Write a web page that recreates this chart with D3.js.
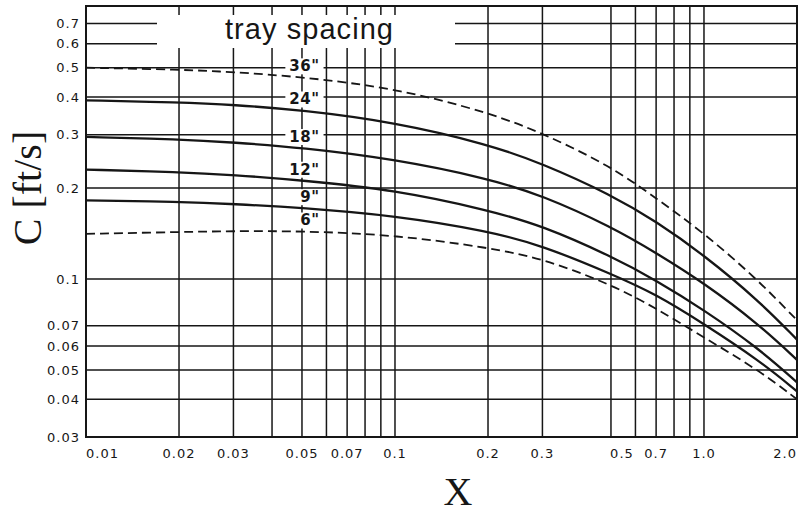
<!DOCTYPE html>
<html>
<head>
<meta charset="utf-8">
<script src="https://cdn.jsdelivr.net/npm/d3@7/dist/d3.min.js"></script>
<style>
  body { margin: 0; background: #fff; }
  svg { display: block; }
</style>
</head>
<body>
<svg id="chart" width="811" height="515"></svg>
<script>
// values (X on the bottom, C in ft/s on the left)
const xValues = [0.01, 0.02, 0.03, 0.05, 0.1, 0.2, 0.3, 0.5, 0.7, 1.0, 1.5, 2.0];
const c36 = [0.500, 0.493, 0.484, 0.466, 0.428, 0.356, 0.304, 0.236, 0.185, 0.142, 0.099, 0.073];
const c24 = [0.390, 0.384, 0.377, 0.362, 0.330, 0.279, 0.241, 0.190, 0.155, 0.120, 0.085, 0.063];
const c18 = [0.295, 0.290, 0.283, 0.272, 0.249, 0.215, 0.189, 0.149, 0.122, 0.097, 0.071, 0.054];
const c12 = [0.230, 0.226, 0.221, 0.212, 0.197, 0.169, 0.150, 0.119, 0.099, 0.079, 0.059, 0.0455];
const c9  = [0.182, 0.180, 0.177, 0.172, 0.162, 0.144, 0.129, 0.104, 0.089, 0.071, 0.054, 0.0425];
const c6  = [0.141, 0.143, 0.144, 0.144, 0.140, 0.127, 0.117, 0.096, 0.080, 0.064, 0.050, 0.040];

const spacingLabels = ['36"', '24"', '18"', '12"', '9"', '6"'];
const spacingSeries = [c36, c24, c18, c12, c9, c6];
const dashedSeries = ['36"', '6"'];

const xGrid = [0.02, 0.03, 0.04, 0.05, 0.06, 0.07, 0.08, 0.09, 0.1, 0.2, 0.3, 0.5, 0.6, 0.7, 0.8, 0.9, 1.0];
const yGrid = [0.04, 0.05, 0.06, 0.07, 0.1, 0.2, 0.3, 0.4, 0.5, 0.6, 0.7];
const xTicks = [0.01, 0.02, 0.03, 0.05, 0.07, 0.1, 0.2, 0.3, 0.5, 0.7, 1.0, 2.0];
const xTickText = ['0.01', '0.02', '0.03', '0.05', '0.07', '0.1', '0.2', '0.3', '0.5', '0.7', '1.0', '2.0'];
const yTicks = [0.03, 0.04, 0.05, 0.06, 0.07, 0.1, 0.2, 0.3, 0.4, 0.5, 0.6, 0.7];

const width = 811, height = 515;
const margin = { top: 6, right: 14, bottom: 78, left: 86 };
const ink = '#161616';

const svg = d3.select('#chart');

const x = d3.scaleLog()
	.domain([0.01, 2.0])
	.range([margin.left, width - margin.right]);

const y = d3.scaleLog()
	.domain([0.03, 0.8])
	.range([height - margin.bottom, margin.top]);

const plot = svg.append('g');

// grid
plot.append('g').selectAll('line')
	.data(xGrid)
	.join('line')
	.attr('x1', d => x(d)).attr('x2', d => x(d))
	.attr('y1', y.range()[0]).attr('y2', y.range()[1])
	.attr('stroke', ink).attr('stroke-width', 1.5);

plot.append('g').selectAll('line')
	.data(yGrid)
	.join('line')
	.attr('x1', x.range()[0]).attr('x2', x.range()[1])
	.attr('y1', d => y(d)).attr('y2', d => y(d))
	.attr('stroke', ink).attr('stroke-width', 1.5);

// white patch for the title, cuts the grid
plot.append('rect')
	.attr('x', 157).attr('y', 15)
	.attr('width', 298).attr('height', 33)
	.attr('fill', '#fff');

plot.append('text')
	.attr('x', 225).attr('y', 39)
	.attr('textLength', 168)
	.attr('lengthAdjust', 'spacing')
	.style('font-family', '"Liberation Sans", Arial, sans-serif')
	.style('font-size', '29px')
	.attr('fill', ink)
	.text('tray spacing');

// curves (basis spline, the originals are drawn smooth)
const line = d3.line()
	.x(d => x(d[0]))
	.y(d => y(d[1]))
	.curve(d3.curveBasis);

const series = spacingLabels.map((name, i) => ({
	name: name,
	points: xValues.map((v, j) => [v, spacingSeries[i][j]])
}));

plot.append('g').selectAll('path')
	.data(series)
	.join('path')
	.attr('d', d => line(d.points))
	.attr('fill', 'none')
	.attr('stroke', ink)
	.attr('stroke-width', d => dashedSeries.includes(d.name) ? 1.8 : 2.3)
	.attr('stroke-dasharray', d => dashedSeries.includes(d.name) ? '9,5' : null);

// spacing labels sit just above each curve near X = 0.05
const labelAt = 0.05;
const labels = plot.append('g').selectAll('g')
	.data(series)
	.join('g');

labels.append('rect').attr('fill', '#fff');

labels.append('text')
	.attr('x', x(0.057))
	.attr('y', d => y(d.points[xValues.indexOf(labelAt)][1]) - 11)
	.attr('dy', '0.36em')
	.attr('text-anchor', 'end')
	.style('font-family', '"DejaVu Sans", sans-serif')
	.style('font-weight', 'bold')
	.style('font-size', '15px')
	.style('letter-spacing', '0.5px')
	.attr('fill', ink)
	.text(d => d.name);

labels.each(function() {
	let g = d3.select(this);
	let b = g.select('text').node().getBBox();
	g.select('rect')
		.attr('x', b.x - 4).attr('y', b.y + 1)
		.attr('width', b.width + 8).attr('height', b.height - 2);
});

// frame
plot.append('rect')
	.attr('x', x.range()[0]).attr('y', y.range()[1])
	.attr('width', x.range()[1] - x.range()[0])
	.attr('height', y.range()[0] - y.range()[1])
	.attr('fill', 'none')
	.attr('stroke', ink).attr('stroke-width', 2);

// tick labels
const tickFont = '"DejaVu Sans", sans-serif';

svg.append('g').selectAll('text')
	.data(xTicks)
	.join('text')
	.attr('x', d => x(d))
	.attr('dx', d => d === 0.5 ? 11 : 0)
	.attr('y', 458)
	.attr('text-anchor', (d, i) => i === 0 ? 'start' : (i === xTicks.length - 1 ? 'end' : 'middle'))
	.style('font-family', tickFont)
	.style('font-size', '13px')
	.style('letter-spacing', '1px')
	.attr('fill', ink)
	.text((d, i) => xTickText[i]);

svg.append('g').selectAll('text')
	.data(yTicks)
	.join('text')
	.attr('x', 80)
	.attr('y', d => y(d))
	.attr('dy', '0.36em')
	.attr('text-anchor', 'end')
	.style('font-family', tickFont)
	.style('font-size', '13px')
	.style('letter-spacing', '1px')
	.attr('fill', ink)
	.text(d => String(d));

// axis titles
svg.append('text')
	.attr('x', 458).attr('y', 505)
	.attr('text-anchor', 'middle')
	.style('font-family', '"Liberation Serif", "Times New Roman", serif')
	.style('font-size', '40px')
	.attr('fill', ink)
	.text('X');

svg.append('text')
	.attr('transform', 'translate(41,188) rotate(-90)')
	.attr('text-anchor', 'middle')
	.style('font-family', '"Liberation Serif", "Times New Roman", serif')
	.style('font-size', '40px')
	.attr('fill', ink)
	.text('C [ft/s]');
</script>
</body>
</html>
